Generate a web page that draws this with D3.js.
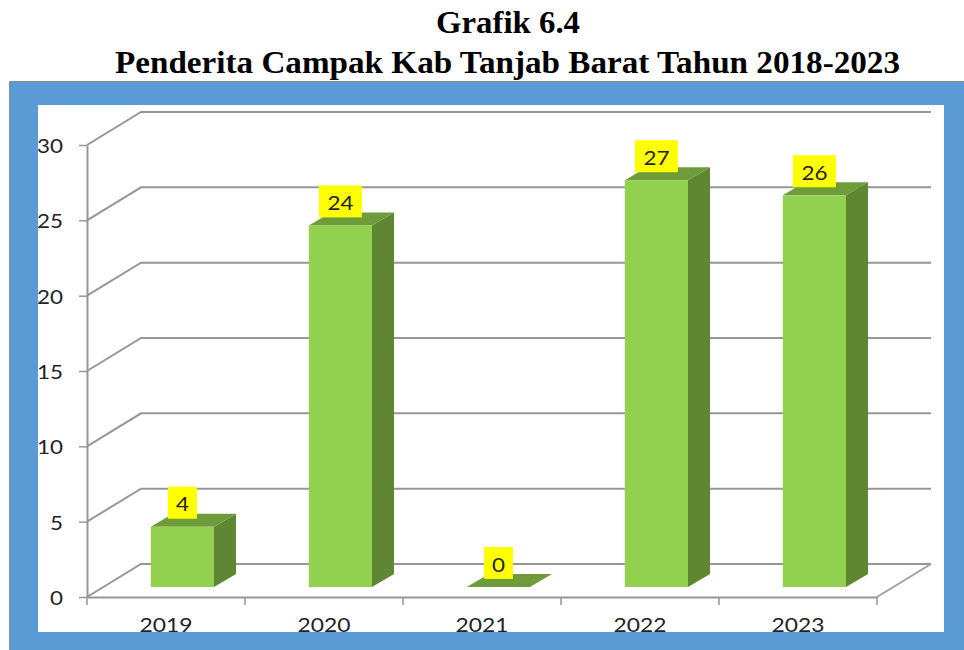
<!DOCTYPE html>
<html>
<head>
  <meta charset="utf-8">
  <title>Grafik 6.4</title>
  <script src="https://d3js.org/d3.v7.min.js"></script>
  <style>
    body { margin: 0; background: #fff; }
    svg { display: block; }
    text { font-family: Lato, "Open Sans", sans-serif; fill: #222; }
    .title { font-family: "Liberation Serif", serif; font-weight: bold; font-size: 32px; fill: #000; }
  </style>
</head>
<body>
  <div id="chart"></div>
  <script>
    // data
    var years = ["2019", "2020", "2021", "2022", "2023"];
    var cases = [4, 24, 0, 27, 26];
    var yTicks = [0, 5, 10, 15, 20, 25, 30];

    var width = 964, height = 650;
    var svg = d3.select("#chart").append("svg")
      .attr("width", width)
      .attr("height", height);

    // front plane of the 3d box
    var x = d3.scaleBand().domain(years).range([87, 877]).paddingInner(0.6).paddingOuter(0.3);
    var step = d3.scaleBand().domain(years).range([87, 877]);
    var y = d3.scaleLinear().domain([0, 30]).range([597, 145]);

    // depth of the box and of the bars in it
    var wall = { dx: 54, dy: -33 };
    var gap = { dx: 16.4, dy: -10 };
    var depth = { dx: 22, dy: -13 };

    // gridlines on side wall and back wall
    svg.append("g").selectAll("path")
      .data(yTicks)
      .enter().append("path")
      .attr("d", function (d) {
        return d3.line()([
          [87, y(d)],
          [87 + wall.dx, y(d) + wall.dy],
          [877 + wall.dx, y(d) + wall.dy]
        ]);
      })
      .attr("fill", "none")
      .attr("stroke", "#969696")
      .attr("stroke-width", 2);

    // floor edge on the right
    svg.append("path")
      .attr("d", d3.line()([[877, y(0)], [877 + wall.dx, y(0) + wall.dy]]))
      .attr("stroke", "#a0a0a0")
      .attr("stroke-width", 2);

    // axes
    var yAxis = svg.append("g")
      .attr("transform", "translate(87,0)")
      .call(d3.axisLeft(y).tickValues(yTicks).tickSize(8).tickPadding(16).tickSizeOuter(0));
    var xAxis = svg.append("g")
      .attr("transform", "translate(0," + y(0) + ")")
      .call(d3.axisBottom(step).tickSize(0).tickPadding(21).tickSizeOuter(0));

    yAxis.selectAll("text")
      .style("font-family", "Lato")
      .style("font-size", "20px")
      .attr("fill", "#222")
      .attr("dy", "0.38em")
      .attr("textLength", function (d) { return String(d).length * 13; })
      .attr("lengthAdjust", "spacingAndGlyphs");
    xAxis.selectAll("text")
      .style("font-family", "Lato")
      .style("font-size", "20px")
      .attr("fill", "#222")
      .attr("textLength", 53)
      .attr("lengthAdjust", "spacingAndGlyphs");

    svg.selectAll(".domain").attr("stroke", "#969696").attr("stroke-width", 2);
    svg.selectAll(".tick line").attr("stroke", "#969696").attr("stroke-width", 1.5);

    // category separators on the x axis
    svg.append("g").selectAll("line")
      .data(d3.range(years.length + 1))
      .enter().append("line")
      .attr("x1", function (i) { return 87 + i * step.step(); })
      .attr("x2", function (i) { return 87 + i * step.step(); })
      .attr("y1", y(0))
      .attr("y2", y(0) + 8)
      .attr("stroke", "#969696")
      .attr("stroke-width", 1.5);

    // bars
    var rows = years.map(function (yr, i) { return { year: yr, value: cases[i] }; });
    var bars = svg.append("g").selectAll("g")
      .data(rows)
      .enter().append("g")
      .attr("transform", "translate(" + gap.dx + "," + gap.dy + ")");

    // side face
    bars.append("path")
      .attr("d", function (d) {
        var r = x(d.year) + x.bandwidth();
        return d3.line()([
          [r, y(d.value)], [r + depth.dx, y(d.value) + depth.dy],
          [r + depth.dx, y(0) + depth.dy], [r, y(0)]
        ]) + "Z";
      })
      .attr("fill", "#5f8632");
    // top face
    bars.append("path")
      .attr("d", function (d) {
        var l = x(d.year), r = l + x.bandwidth();
        return d3.line()([
          [l, y(d.value)], [l + depth.dx, y(d.value) + depth.dy],
          [r + depth.dx, y(d.value) + depth.dy], [r, y(d.value)]
        ]) + "Z";
      })
      .attr("fill", "#6e9c3a");
    // front face
    bars.append("rect")
      .attr("x", function (d) { return x(d.year); })
      .attr("y", function (d) { return y(d.value); })
      .attr("width", x.bandwidth())
      .attr("height", function (d) { return y(0) - y(d.value); })
      .attr("fill", "#92d050");

    // value labels on yellow
    bars.append("rect")
      .attr("x", function (d) {
        var w = d.value > 9 ? 43 : 29;
        return x(d.year) + x.bandwidth() / 2 - w / 2;
      })
      .attr("y", function (d) { return y(d.value) - 40; })
      .attr("width", function (d) { return d.value > 9 ? 43 : 29; })
      .attr("height", 32)
      .attr("fill", "#ffff00");
    bars.append("text")
      .attr("x", function (d) { return x(d.year) + x.bandwidth() / 2; })
      .attr("y", function (d) { return y(d.value) - 23; })
      .attr("dy", "0.38em")
      .attr("text-anchor", "middle")
      .style("font-size", "20px")
      .attr("textLength", function (d) { return String(d.value).length * 13; })
      .attr("lengthAdjust", "spacingAndGlyphs")
      .text(function (d) { return d.value; });

    // blue frame goes over the chart, it cuts the year labels a bit
    svg.append("path")
      .attr("d", "M9.5,81.5H964V650H9.5Z M38,105V632H944V105Z")
      .attr("fill", "#5b9bd5")
      .attr("fill-rule", "evenodd");
    svg.append("path")
      .attr("d", "M9.5,650V81.5H964")
      .attr("fill", "none")
      .attr("stroke", "#8a8a8a");

    // title
    svg.append("text").attr("class", "title")
      .attr("x", 508).attr("y", 33)
      .attr("text-anchor", "middle")
      .attr("textLength", 144)
      .attr("lengthAdjust", "spacingAndGlyphs")
      .text("Grafik 6.4");
    svg.append("text").attr("class", "title")
      .attr("x", 507.5).attr("y", 73)
      .attr("text-anchor", "middle")
      .attr("textLength", 785)
      .attr("lengthAdjust", "spacingAndGlyphs")
      .text("Penderita Campak Kab Tanjab Barat Tahun 2018-2023");
  </script>
</body>
</html>
